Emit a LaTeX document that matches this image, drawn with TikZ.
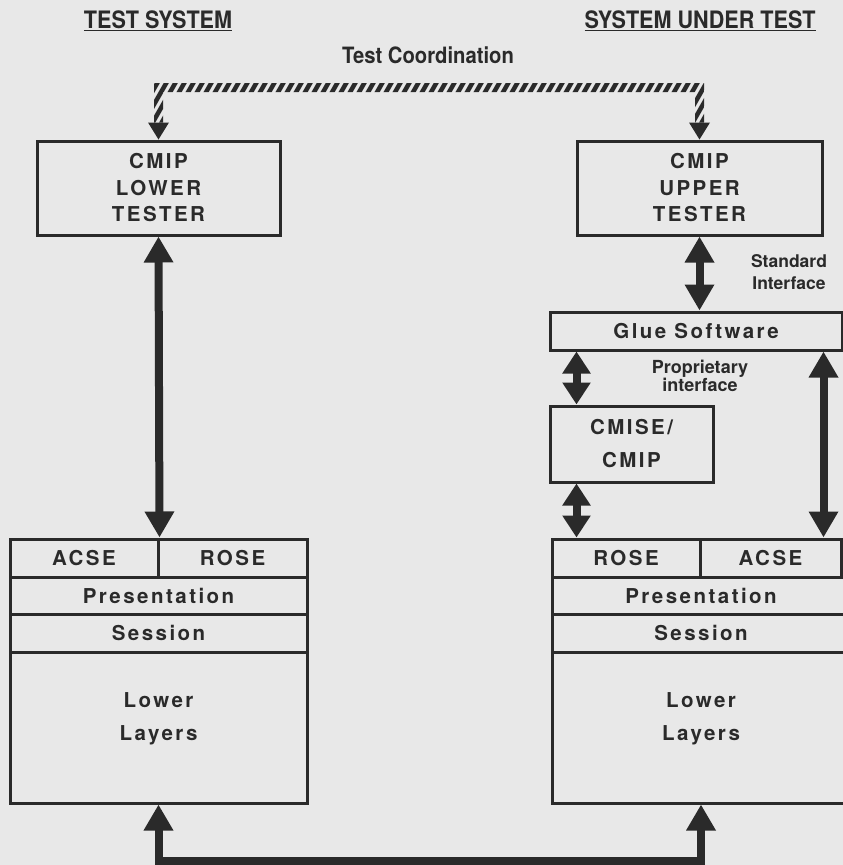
\documentclass[tikz,border=0pt]{standalone}
\usepackage{fontspec}
\setmainfont{TeX Gyre Heros}
\newfontfamily\spacedfont[LetterSpace=12]{TeX Gyre Heros}
\newfontfamily\narrowfont[FakeStretch=0.9]{TeX Gyre Heros}
\usetikzlibrary{arrows.meta,calc,positioning}
\definecolor{ink}{HTML}{2A2A2A}
\definecolor{paper}{HTML}{E8E8E8}

\begin{document}
\begin{tikzpicture}[x=1pt,y=-1pt,%
    box/.style={draw=ink,line width=3pt,inner sep=0pt,text=ink,align=center,
      font=\spacedfont\bfseries\fontsize{20.5}{26.5}\selectfont},
    lbl/.style={text=ink,align=center,inner sep=0pt,
      font=\spacedfont\bfseries\fontsize{20.5}{33}\selectfont},
    note/.style={text=ink,align=center,inner sep=0pt,
      font=\bfseries\fontsize{17.5}{22}\selectfont},
    head/.style={text=ink,inner sep=0pt,font=\narrowfont\bfseries\fontsize{24}{26}\selectfont},
    dbl/.style={line width=8pt,draw=ink,
      {Triangle[width=28pt,length=26pt]}-{Triangle[width=28pt,length=26pt]}},
    shortdbl/.style={line width=8pt,draw=ink,
      {Triangle[width=27pt,length=22pt]}-{Triangle[width=27pt,length=22pt]}}
  ]
		\fill[paper] (0,0) rectangle (843,865);
		\useasboundingbox (0,0) rectangle (843,865);

		% headings
		\node[head] (hts) at (158,21) {\underline{TEST SYSTEM}};
		\node[head] (hsut) at (700,21) {\underline{SYSTEM UNDER TEST}};
		\node[head,font=\narrowfont\bfseries\fontsize{22.5}{24}\selectfont] (tc) at (428,55) {Test Coordination};

		% testers
		\node[box,minimum width=243,minimum height=94] (lt) at (158.5,188) {CMIP\\LOWER\\TESTER};
		\node[box,minimum width=245,minimum height=94] (ut) at (699.5,188) {CMIP\\UPPER\\TESTER};

		% test system stack
		\node[box,minimum width=148,minimum height=38] (la) at (84,558) {ACSE};
		\node[box,minimum width=149,minimum height=38] (lr) at (232.5,558) {ROSE};
		\node[box,minimum width=297,minimum height=37] (lp) at (158.5,595.5) {Presentation};
		\node[box,minimum width=297,minimum height=38] (ls) at (158.5,633) {Session};
		\node[box,minimum width=297,minimum height=151] (ll) at (158.5,727.5) {};
		\node[lbl] (lltxt) at ($(ll.center)+(0,-9)$) {Lower\\Layers};

		% system under test stack
		\node[box,minimum width=292,minimum height=38] (glue) at (696,331) {Glue Software};
		\node[box,minimum width=163,minimum height=76,
		  font=\spacedfont\bfseries\fontsize{20.5}{33}\selectfont] (cm) at (631.5,444) {CMISE/\\CMIP};
		\node[box,minimum width=148,minimum height=38] (rr) at (626,558) {ROSE};
		\node[box,minimum width=141,minimum height=38] (ra) at (770.5,558) {ACSE};
		\node[box,minimum width=298,minimum height=37] (rp) at (701,595.5) {Presentation};
		\node[box,minimum width=298,minimum height=38] (rs) at (701,633) {Session};
		\node[box,minimum width=298,minimum height=151] (rl) at (701,727.5) {};
		\node[lbl] (rltxt) at ($(rl.center)+(0,-9)$) {Lower\\Layers};

		\node[note] (si) at (789,272) {Standard\\Interface};
		\node[note,font=\bfseries\fontsize{18}{18}\selectfont] (pi) at (700,376) {Proprietary\\interface};

		% test coordination (hatched)
		\coordinate (hl) at ($(lt.north)+(0,-52)$);
		\coordinate (hr) at (hl -| ut.north);
		\begin{scope}
			\clip ($(lt.north)+(-4.5,-17)$) -- ($(hl)+(-4.5,-4.5)$) -- ($(hr)+(4.5,-4.5)$)
			  -- ($(ut.north)+(4.5,-17)$) -- ($(ut.north)+(-4.5,-17)$) -- ($(hr)+(-4.5,4.5)$)
			  -- ($(hl)+(4.5,4.5)$) -- ($(lt.north)+(4.5,-17)$) -- cycle;
			\foreach \i in {0,...,66}
				\draw[ink,line width=4.5pt] (110+\i*9,150) -- ++(40,-70);
		\end{scope}
		\fill[ink] ($(lt.north)+(-10.5,-17)$) -- (lt.north) -- ($(lt.north)+(10.5,-17)$) -- cycle;
		\fill[ink] ($(ut.north)+(-10.5,-17)$) -- (ut.north) -- ($(ut.north)+(10.5,-17)$) -- cycle;

		% interfaces
		\draw[dbl] (lt.south) -- (la.north east);
		\draw[dbl] (ut.south) -- (ut.south |- glue.north);
		\coordinate (cmt) at ($(cm.north west)+(28,0)$);
		\coordinate (cmb) at ($(cm.south west)+(28,0)$);
		\draw[shortdbl] (cmt |- glue.south) -- (cmt);
		\draw[shortdbl] (cmb) -- (cmb |- rr.north);
		\draw[dbl] (glue.south -| ut.east) -- (ra.north -| ut.east);

		% lower layers link
		\draw[dbl] (ll.south) -- ++(0,56) -| (rl.south);
	\end{tikzpicture}
\end{document}
